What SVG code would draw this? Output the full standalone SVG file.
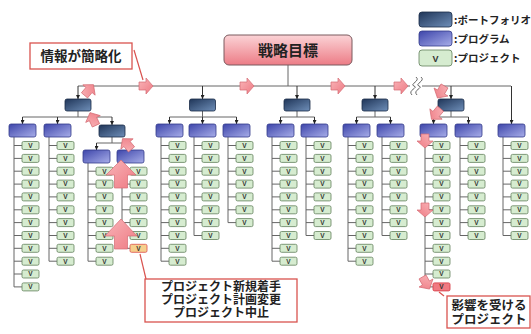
<svg xmlns="http://www.w3.org/2000/svg" xmlns:xlink="http://www.w3.org/1999/xlink" width="531" height="334" viewBox="0 0 531 334">
<defs>
<linearGradient id="gTop" x1="0" y1="0" x2="0" y2="1"><stop offset="0" stop-color="#fbd3d6"/><stop offset="1" stop-color="#ec7c86"/></linearGradient>
<linearGradient id="gPf" x1="0" y1="0" x2="1" y2="1"><stop offset="0" stop-color="#1f3558"/><stop offset="1" stop-color="#6f8fb9"/></linearGradient>
<linearGradient id="gPg" x1="0" y1="0" x2="1" y2="1"><stop offset="0" stop-color="#3d45aa"/><stop offset="1" stop-color="#a8aee9"/></linearGradient>
<linearGradient id="gAr" x1="0" y1="0" x2="1" y2="1"><stop offset="0" stop-color="#f9b5b9"/><stop offset="1" stop-color="#ee7a83"/></linearGradient>
<marker id="ah" viewBox="0 0 6 6" refX="6" refY="3" markerWidth="4" markerHeight="4" orient="auto"><path d="M0,0L6,3L0,6z" fill="#222"/></marker>
<path id="arr" d="M-7,-4H0V-8L7,0L0,8V4H-7Z"/>
</defs>
<style>
.ln{stroke:#666;stroke-width:1;fill:none}
.dr{stroke:#333;stroke-width:1;fill:none;marker-end:url(#ah)}
.pf{fill:url(#gPf);stroke:#1b2c48;stroke-width:0.8}
.pg{fill:url(#gPg);stroke:#343b8a;stroke-width:0.8}
.pj{fill:#d6ecd0;stroke:#62805c;stroke-width:0.8}
.v{font-family:"Liberation Sans",sans-serif;font-size:6.5px;font-weight:bold;fill:#333;text-anchor:middle}
.pa{fill:url(#gAr);stroke:#d46a72;stroke-width:0.7}
.co{fill:#fff;stroke:#d9534f;stroke-width:1.3}
.cl{stroke:#d9534f;stroke-width:1.2;fill:none}
.jp{font-family:"Noto Sans CJK JP",sans-serif;font-weight:bold;fill:#222}
</style>

<g id="connectors">
<path class="ln" d="M288,65V86M78,86H410M422,86H511"/>
<path class="dr" d="M78,86V99"/><path class="dr" d="M202.5,86V99"/><path class="dr" d="M297,86V99"/><path class="dr" d="M375,86V99"/><path class="dr" d="M451,86V99"/><path class="dr" d="M511.5,86V124"/>
<path class="ln" d="M78,111V117M22.5,117H112M202.5,111V117M169.5,117H236.5M297,111V117M280.5,117H314.5M375,111V117M356.5,117H390.5M451,111V117M433.5,117H468.5"/>
<path class="dr" d="M22.5,117V124"/><path class="dr" d="M57.5,117V124"/><path class="dr" d="M112,117V125"/>
<path class="dr" d="M169.5,117V124"/><path class="dr" d="M202.5,117V124"/><path class="dr" d="M236.5,117V124"/>
<path class="dr" d="M280.5,117V124"/><path class="dr" d="M314.5,117V124"/>
<path class="dr" d="M356.5,117V124"/><path class="dr" d="M390.5,117V124"/>
<path class="dr" d="M433.5,117V124"/><path class="dr" d="M468.5,117V124"/>
<path class="ln" d="M112,137V143M96.5,143H130.5"/>
<path class="dr" d="M96.5,143V150"/><path class="dr" d="M130.5,143V150"/>
<path class="ln" d="M14,137V286.9M49,137V261.2M88,163V261.2M122,163V248.3M161,137V261.2M194,137V235.5M228,137V222.6M272,137V261.2M306,137V235.5M348,137V261.2M382,137V235.5M425,137V286.9M460,137V235.5M503,137V235.5"/>
<path class="ln" d="M14,145.5H22M14,158.4H22M14,171.2H22M14,184.1H22M14,196.9H22M14,209.8H22M14,222.6H22M14,235.5H22M14,248.3H22M14,261.2H22M14,274H22M14,286.9H22"/>
<path class="ln" d="M49,145.5H57M49,158.4H57M49,171.2H57M49,184.1H57M49,196.9H57M49,209.8H57M49,222.6H57M49,235.5H57M49,248.3H57M49,261.2H57"/>
<path class="ln" d="M88,171.2H96M88,184.1H96M88,196.9H96M88,209.8H96M88,222.6H96M88,235.5H96M88,248.3H96M88,261.2H96"/>
<path class="ln" d="M122,171.2H130M122,184.1H130M122,196.9H130M122,209.8H130M122,222.6H130M122,235.5H130M122,248.3H130"/>
<path class="ln" d="M161,145.5H169M161,158.4H169M161,171.2H169M161,184.1H169M161,196.9H169M161,209.8H169M161,222.6H169M161,235.5H169M161,248.3H169M161,261.2H169"/>
<path class="ln" d="M194,145.5H202M194,158.4H202M194,171.2H202M194,184.1H202M194,196.9H202M194,209.8H202M194,222.6H202M194,235.5H202"/>
<path class="ln" d="M228,145.5H236M228,158.4H236M228,171.2H236M228,184.1H236M228,196.9H236M228,209.8H236M228,222.6H236"/>
<path class="ln" d="M272,145.5H280M272,158.4H280M272,171.2H280M272,184.1H280M272,196.9H280M272,209.8H280M272,222.6H280M272,235.5H280M272,248.3H280M272,261.2H280"/>
<path class="ln" d="M306,145.5H314M306,158.4H314M306,171.2H314M306,184.1H314M306,196.9H314M306,209.8H314M306,222.6H314M306,235.5H314"/>
<path class="ln" d="M348,145.5H356M348,158.4H356M348,171.2H356M348,184.1H356M348,196.9H356M348,209.8H356M348,222.6H356M348,235.5H356M348,248.3H356M348,261.2H356"/>
<path class="ln" d="M382,145.5H390M382,158.4H390M382,171.2H390M382,184.1H390M382,196.9H390M382,209.8H390M382,222.6H390M382,235.5H390"/>
<path class="ln" d="M425,145.5H433M425,158.4H433M425,171.2H433M425,184.1H433M425,196.9H433M425,209.8H433M425,222.6H433M425,235.5H433M425,248.3H433M425,261.2H433M425,274H433M425,286.9H433"/>
<path class="ln" d="M460,145.5H468M460,158.4H468M460,171.2H468M460,184.1H468M460,196.9H468M460,209.8H468M460,222.6H468M460,235.5H468"/>
<path class="ln" d="M503,145.5H511M503,158.4H511M503,171.2H511M503,184.1H511M503,196.9H511M503,209.8H511M503,222.6H511M503,235.5H511"/>
<path d="M412,95C407,90 419,88 414,86C409,84 421,81 416,77" stroke="#666" stroke-width="1" fill="none"/>
<path d="M417,95C412,90 424,88 419,86C414,84 426,81 421,77" stroke="#666" stroke-width="1" fill="none"/>
</g>

<g id="goal"><rect x="224" y="35" width="128" height="30" rx="5" fill="url(#gTop)" stroke="#7a5a5e" stroke-width="1"/><text class="jp" x="288" y="55.5" font-size="15" text-anchor="middle">戦略目標</text></g>

<g id="pf1"><rect class="pf" x="65" y="99" width="26" height="12" rx="2"/></g>
<g id="pf2"><rect class="pf" x="189.5" y="99" width="26" height="12" rx="2"/></g>
<g id="pf3"><rect class="pf" x="284" y="99" width="26" height="12" rx="2"/></g>
<g id="pf4"><rect class="pf" x="362" y="99" width="26" height="12" rx="2"/></g>
<g id="pf5"><rect class="pf" x="438" y="99" width="26" height="12" rx="2"/></g>
<g id="pf1s"><rect class="pf" x="99" y="125" width="26" height="12" rx="2"/></g>

<g id="pg1"><rect class="pg" x="9" y="124" width="27" height="13" rx="2"/></g>
<g id="pg2"><rect class="pg" x="44" y="124" width="27" height="13" rx="2"/></g>
<g id="pgs1"><rect class="pg" x="83" y="150" width="27" height="13" rx="2"/></g>
<g id="pgs2"><rect class="pg" x="117" y="150" width="27" height="13" rx="2"/></g>
<g id="pg3"><rect class="pg" x="156" y="124" width="27" height="13" rx="2"/></g>
<g id="pg4"><rect class="pg" x="189" y="124" width="27" height="13" rx="2"/></g>
<g id="pg5"><rect class="pg" x="223" y="124" width="27" height="13" rx="2"/></g>
<g id="pg6"><rect class="pg" x="267" y="124" width="27" height="13" rx="2"/></g>
<g id="pg7"><rect class="pg" x="301" y="124" width="27" height="13" rx="2"/></g>
<g id="pg8"><rect class="pg" x="343" y="124" width="27" height="13" rx="2"/></g>
<g id="pg9"><rect class="pg" x="377" y="124" width="27" height="13" rx="2"/></g>
<g id="pg10"><rect class="pg" x="420" y="124" width="27" height="13" rx="2"/></g>
<g id="pg11"><rect class="pg" x="455" y="124" width="27" height="13" rx="2"/></g>
<g id="pg12"><rect class="pg" x="498" y="124" width="27" height="13" rx="2"/></g>

<g id="projects">
<g id="c1">
<g id="c1-0"><rect class="pj" x="22" y="141.5" width="17" height="8" rx="1.5"/><text class="v" x="30.5" y="147.8">V</text></g>
<g id="c1-1"><rect class="pj" x="22" y="154.4" width="17" height="8" rx="1.5"/><text class="v" x="30.5" y="160.7">V</text></g>
<g id="c1-2"><rect class="pj" x="22" y="167.2" width="17" height="8" rx="1.5"/><text class="v" x="30.5" y="173.5">V</text></g>
<g id="c1-3"><rect class="pj" x="22" y="180.1" width="17" height="8" rx="1.5"/><text class="v" x="30.5" y="186.4">V</text></g>
<g id="c1-4"><rect class="pj" x="22" y="192.9" width="17" height="8" rx="1.5"/><text class="v" x="30.5" y="199.2">V</text></g>
<g id="c1-5"><rect class="pj" x="22" y="205.8" width="17" height="8" rx="1.5"/><text class="v" x="30.5" y="212.1">V</text></g>
<g id="c1-6"><rect class="pj" x="22" y="218.6" width="17" height="8" rx="1.5"/><text class="v" x="30.5" y="224.9">V</text></g>
<g id="c1-7"><rect class="pj" x="22" y="231.5" width="17" height="8" rx="1.5"/><text class="v" x="30.5" y="237.8">V</text></g>
<g id="c1-8"><rect class="pj" x="22" y="244.3" width="17" height="8" rx="1.5"/><text class="v" x="30.5" y="250.6">V</text></g>
<g id="c1-9"><rect class="pj" x="22" y="257.2" width="17" height="8" rx="1.5"/><text class="v" x="30.5" y="263.5">V</text></g>
<g id="c1-10"><rect class="pj" x="22" y="270" width="17" height="8" rx="1.5"/><text class="v" x="30.5" y="276.3">V</text></g>
<g id="c1-11"><rect class="pj" x="22" y="282.9" width="17" height="8" rx="1.5"/><text class="v" x="30.5" y="289.2">V</text></g>
</g>
<g id="c2">
<g id="c2-0"><rect class="pj" x="57" y="141.5" width="17" height="8" rx="1.5"/><text class="v" x="65.5" y="147.8">V</text></g>
<g id="c2-1"><rect class="pj" x="57" y="154.4" width="17" height="8" rx="1.5"/><text class="v" x="65.5" y="160.7">V</text></g>
<g id="c2-2"><rect class="pj" x="57" y="167.2" width="17" height="8" rx="1.5"/><text class="v" x="65.5" y="173.5">V</text></g>
<g id="c2-3"><rect class="pj" x="57" y="180.1" width="17" height="8" rx="1.5"/><text class="v" x="65.5" y="186.4">V</text></g>
<g id="c2-4"><rect class="pj" x="57" y="192.9" width="17" height="8" rx="1.5"/><text class="v" x="65.5" y="199.2">V</text></g>
<g id="c2-5"><rect class="pj" x="57" y="205.8" width="17" height="8" rx="1.5"/><text class="v" x="65.5" y="212.1">V</text></g>
<g id="c2-6"><rect class="pj" x="57" y="218.6" width="17" height="8" rx="1.5"/><text class="v" x="65.5" y="224.9">V</text></g>
<g id="c2-7"><rect class="pj" x="57" y="231.5" width="17" height="8" rx="1.5"/><text class="v" x="65.5" y="237.8">V</text></g>
<g id="c2-8"><rect class="pj" x="57" y="244.3" width="17" height="8" rx="1.5"/><text class="v" x="65.5" y="250.6">V</text></g>
<g id="c2-9"><rect class="pj" x="57" y="257.2" width="17" height="8" rx="1.5"/><text class="v" x="65.5" y="263.5">V</text></g>
</g>
<g id="s1">
<g id="s1-2"><rect class="pj" x="96" y="167.2" width="17" height="8" rx="1.5"/><text class="v" x="104.5" y="173.5">V</text></g>
<g id="s1-3"><rect class="pj" x="96" y="180.1" width="17" height="8" rx="1.5"/><text class="v" x="104.5" y="186.4">V</text></g>
<g id="s1-4"><rect class="pj" x="96" y="192.9" width="17" height="8" rx="1.5"/><text class="v" x="104.5" y="199.2">V</text></g>
<g id="s1-5"><rect class="pj" x="96" y="205.8" width="17" height="8" rx="1.5"/><text class="v" x="104.5" y="212.1">V</text></g>
<g id="s1-6"><rect class="pj" x="96" y="218.6" width="17" height="8" rx="1.5"/><text class="v" x="104.5" y="224.9">V</text></g>
<g id="s1-7"><rect class="pj" x="96" y="231.5" width="17" height="8" rx="1.5"/><text class="v" x="104.5" y="237.8">V</text></g>
<g id="s1-8"><rect class="pj" x="96" y="244.3" width="17" height="8" rx="1.5"/><text class="v" x="104.5" y="250.6">V</text></g>
<g id="s1-9"><rect class="pj" x="96" y="257.2" width="17" height="8" rx="1.5"/><text class="v" x="104.5" y="263.5">V</text></g>
</g>
<g id="s2">
<g id="s2-2"><rect class="pj" x="130" y="167.2" width="17" height="8" rx="1.5"/><text class="v" x="138.5" y="173.5">V</text></g>
<g id="s2-3"><rect class="pj" x="130" y="180.1" width="17" height="8" rx="1.5"/><text class="v" x="138.5" y="186.4">V</text></g>
<g id="s2-4"><rect class="pj" x="130" y="192.9" width="17" height="8" rx="1.5"/><text class="v" x="138.5" y="199.2">V</text></g>
<g id="s2-5"><rect class="pj" x="130" y="205.8" width="17" height="8" rx="1.5"/><text class="v" x="138.5" y="212.1">V</text></g>
<g id="s2-6"><rect class="pj" x="130" y="218.6" width="17" height="8" rx="1.5"/><text class="v" x="138.5" y="224.9">V</text></g>
<g id="s2-7"><rect class="pj" x="130" y="231.5" width="17" height="8" rx="1.5"/><text class="v" x="138.5" y="237.8">V</text></g>
<g id="s2-8"><rect x="130" y="244.3" width="17" height="8" rx="1.5" fill="#f6cf8c" stroke="#e0605a" stroke-width="0.9"/><text class="v" x="138.5" y="250.6">V</text></g>
</g>
<g id="c3">
<g id="c3-0"><rect class="pj" x="169" y="141.5" width="17" height="8" rx="1.5"/><text class="v" x="177.5" y="147.8">V</text></g>
<g id="c3-1"><rect class="pj" x="169" y="154.4" width="17" height="8" rx="1.5"/><text class="v" x="177.5" y="160.7">V</text></g>
<g id="c3-2"><rect class="pj" x="169" y="167.2" width="17" height="8" rx="1.5"/><text class="v" x="177.5" y="173.5">V</text></g>
<g id="c3-3"><rect class="pj" x="169" y="180.1" width="17" height="8" rx="1.5"/><text class="v" x="177.5" y="186.4">V</text></g>
<g id="c3-4"><rect class="pj" x="169" y="192.9" width="17" height="8" rx="1.5"/><text class="v" x="177.5" y="199.2">V</text></g>
<g id="c3-5"><rect class="pj" x="169" y="205.8" width="17" height="8" rx="1.5"/><text class="v" x="177.5" y="212.1">V</text></g>
<g id="c3-6"><rect class="pj" x="169" y="218.6" width="17" height="8" rx="1.5"/><text class="v" x="177.5" y="224.9">V</text></g>
<g id="c3-7"><rect class="pj" x="169" y="231.5" width="17" height="8" rx="1.5"/><text class="v" x="177.5" y="237.8">V</text></g>
<g id="c3-8"><rect class="pj" x="169" y="244.3" width="17" height="8" rx="1.5"/><text class="v" x="177.5" y="250.6">V</text></g>
<g id="c3-9"><rect class="pj" x="169" y="257.2" width="17" height="8" rx="1.5"/><text class="v" x="177.5" y="263.5">V</text></g>
</g>
<g id="c4">
<g id="c4-0"><rect class="pj" x="202" y="141.5" width="17" height="8" rx="1.5"/><text class="v" x="210.5" y="147.8">V</text></g>
<g id="c4-1"><rect class="pj" x="202" y="154.4" width="17" height="8" rx="1.5"/><text class="v" x="210.5" y="160.7">V</text></g>
<g id="c4-2"><rect class="pj" x="202" y="167.2" width="17" height="8" rx="1.5"/><text class="v" x="210.5" y="173.5">V</text></g>
<g id="c4-3"><rect class="pj" x="202" y="180.1" width="17" height="8" rx="1.5"/><text class="v" x="210.5" y="186.4">V</text></g>
<g id="c4-4"><rect class="pj" x="202" y="192.9" width="17" height="8" rx="1.5"/><text class="v" x="210.5" y="199.2">V</text></g>
<g id="c4-5"><rect class="pj" x="202" y="205.8" width="17" height="8" rx="1.5"/><text class="v" x="210.5" y="212.1">V</text></g>
<g id="c4-6"><rect class="pj" x="202" y="218.6" width="17" height="8" rx="1.5"/><text class="v" x="210.5" y="224.9">V</text></g>
<g id="c4-7"><rect class="pj" x="202" y="231.5" width="17" height="8" rx="1.5"/><text class="v" x="210.5" y="237.8">V</text></g>
</g>
<g id="c5">
<g id="c5-0"><rect class="pj" x="236" y="141.5" width="17" height="8" rx="1.5"/><text class="v" x="244.5" y="147.8">V</text></g>
<g id="c5-1"><rect class="pj" x="236" y="154.4" width="17" height="8" rx="1.5"/><text class="v" x="244.5" y="160.7">V</text></g>
<g id="c5-2"><rect class="pj" x="236" y="167.2" width="17" height="8" rx="1.5"/><text class="v" x="244.5" y="173.5">V</text></g>
<g id="c5-3"><rect class="pj" x="236" y="180.1" width="17" height="8" rx="1.5"/><text class="v" x="244.5" y="186.4">V</text></g>
<g id="c5-4"><rect class="pj" x="236" y="192.9" width="17" height="8" rx="1.5"/><text class="v" x="244.5" y="199.2">V</text></g>
<g id="c5-5"><rect class="pj" x="236" y="205.8" width="17" height="8" rx="1.5"/><text class="v" x="244.5" y="212.1">V</text></g>
<g id="c5-6"><rect class="pj" x="236" y="218.6" width="17" height="8" rx="1.5"/><text class="v" x="244.5" y="224.9">V</text></g>
</g>
<g id="c6">
<g id="c6-0"><rect class="pj" x="280" y="141.5" width="17" height="8" rx="1.5"/><text class="v" x="288.5" y="147.8">V</text></g>
<g id="c6-1"><rect class="pj" x="280" y="154.4" width="17" height="8" rx="1.5"/><text class="v" x="288.5" y="160.7">V</text></g>
<g id="c6-2"><rect class="pj" x="280" y="167.2" width="17" height="8" rx="1.5"/><text class="v" x="288.5" y="173.5">V</text></g>
<g id="c6-3"><rect class="pj" x="280" y="180.1" width="17" height="8" rx="1.5"/><text class="v" x="288.5" y="186.4">V</text></g>
<g id="c6-4"><rect class="pj" x="280" y="192.9" width="17" height="8" rx="1.5"/><text class="v" x="288.5" y="199.2">V</text></g>
<g id="c6-5"><rect class="pj" x="280" y="205.8" width="17" height="8" rx="1.5"/><text class="v" x="288.5" y="212.1">V</text></g>
<g id="c6-6"><rect class="pj" x="280" y="218.6" width="17" height="8" rx="1.5"/><text class="v" x="288.5" y="224.9">V</text></g>
<g id="c6-7"><rect class="pj" x="280" y="231.5" width="17" height="8" rx="1.5"/><text class="v" x="288.5" y="237.8">V</text></g>
<g id="c6-8"><rect class="pj" x="280" y="244.3" width="17" height="8" rx="1.5"/><text class="v" x="288.5" y="250.6">V</text></g>
<g id="c6-9"><rect class="pj" x="280" y="257.2" width="17" height="8" rx="1.5"/><text class="v" x="288.5" y="263.5">V</text></g>
</g>
<g id="c7">
<g id="c7-0"><rect class="pj" x="314" y="141.5" width="17" height="8" rx="1.5"/><text class="v" x="322.5" y="147.8">V</text></g>
<g id="c7-1"><rect class="pj" x="314" y="154.4" width="17" height="8" rx="1.5"/><text class="v" x="322.5" y="160.7">V</text></g>
<g id="c7-2"><rect class="pj" x="314" y="167.2" width="17" height="8" rx="1.5"/><text class="v" x="322.5" y="173.5">V</text></g>
<g id="c7-3"><rect class="pj" x="314" y="180.1" width="17" height="8" rx="1.5"/><text class="v" x="322.5" y="186.4">V</text></g>
<g id="c7-4"><rect class="pj" x="314" y="192.9" width="17" height="8" rx="1.5"/><text class="v" x="322.5" y="199.2">V</text></g>
<g id="c7-5"><rect class="pj" x="314" y="205.8" width="17" height="8" rx="1.5"/><text class="v" x="322.5" y="212.1">V</text></g>
<g id="c7-6"><rect class="pj" x="314" y="218.6" width="17" height="8" rx="1.5"/><text class="v" x="322.5" y="224.9">V</text></g>
<g id="c7-7"><rect class="pj" x="314" y="231.5" width="17" height="8" rx="1.5"/><text class="v" x="322.5" y="237.8">V</text></g>
</g>
<g id="c8">
<g id="c8-0"><rect class="pj" x="356" y="141.5" width="17" height="8" rx="1.5"/><text class="v" x="364.5" y="147.8">V</text></g>
<g id="c8-1"><rect class="pj" x="356" y="154.4" width="17" height="8" rx="1.5"/><text class="v" x="364.5" y="160.7">V</text></g>
<g id="c8-2"><rect class="pj" x="356" y="167.2" width="17" height="8" rx="1.5"/><text class="v" x="364.5" y="173.5">V</text></g>
<g id="c8-3"><rect class="pj" x="356" y="180.1" width="17" height="8" rx="1.5"/><text class="v" x="364.5" y="186.4">V</text></g>
<g id="c8-4"><rect class="pj" x="356" y="192.9" width="17" height="8" rx="1.5"/><text class="v" x="364.5" y="199.2">V</text></g>
<g id="c8-5"><rect class="pj" x="356" y="205.8" width="17" height="8" rx="1.5"/><text class="v" x="364.5" y="212.1">V</text></g>
<g id="c8-6"><rect class="pj" x="356" y="218.6" width="17" height="8" rx="1.5"/><text class="v" x="364.5" y="224.9">V</text></g>
<g id="c8-7"><rect class="pj" x="356" y="231.5" width="17" height="8" rx="1.5"/><text class="v" x="364.5" y="237.8">V</text></g>
<g id="c8-8"><rect class="pj" x="356" y="244.3" width="17" height="8" rx="1.5"/><text class="v" x="364.5" y="250.6">V</text></g>
<g id="c8-9"><rect class="pj" x="356" y="257.2" width="17" height="8" rx="1.5"/><text class="v" x="364.5" y="263.5">V</text></g>
</g>
<g id="c9">
<g id="c9-0"><rect class="pj" x="390" y="141.5" width="17" height="8" rx="1.5"/><text class="v" x="398.5" y="147.8">V</text></g>
<g id="c9-1"><rect class="pj" x="390" y="154.4" width="17" height="8" rx="1.5"/><text class="v" x="398.5" y="160.7">V</text></g>
<g id="c9-2"><rect class="pj" x="390" y="167.2" width="17" height="8" rx="1.5"/><text class="v" x="398.5" y="173.5">V</text></g>
<g id="c9-3"><rect class="pj" x="390" y="180.1" width="17" height="8" rx="1.5"/><text class="v" x="398.5" y="186.4">V</text></g>
<g id="c9-4"><rect class="pj" x="390" y="192.9" width="17" height="8" rx="1.5"/><text class="v" x="398.5" y="199.2">V</text></g>
<g id="c9-5"><rect class="pj" x="390" y="205.8" width="17" height="8" rx="1.5"/><text class="v" x="398.5" y="212.1">V</text></g>
<g id="c9-6"><rect class="pj" x="390" y="218.6" width="17" height="8" rx="1.5"/><text class="v" x="398.5" y="224.9">V</text></g>
<g id="c9-7"><rect class="pj" x="390" y="231.5" width="17" height="8" rx="1.5"/><text class="v" x="398.5" y="237.8">V</text></g>
</g>
<g id="c10">
<g id="c10-0"><rect class="pj" x="433" y="141.5" width="17" height="8" rx="1.5"/><text class="v" x="441.5" y="147.8">V</text></g>
<g id="c10-1"><rect class="pj" x="433" y="154.4" width="17" height="8" rx="1.5"/><text class="v" x="441.5" y="160.7">V</text></g>
<g id="c10-2"><rect class="pj" x="433" y="167.2" width="17" height="8" rx="1.5"/><text class="v" x="441.5" y="173.5">V</text></g>
<g id="c10-3"><rect class="pj" x="433" y="180.1" width="17" height="8" rx="1.5"/><text class="v" x="441.5" y="186.4">V</text></g>
<g id="c10-4"><rect class="pj" x="433" y="192.9" width="17" height="8" rx="1.5"/><text class="v" x="441.5" y="199.2">V</text></g>
<g id="c10-5"><rect class="pj" x="433" y="205.8" width="17" height="8" rx="1.5"/><text class="v" x="441.5" y="212.1">V</text></g>
<g id="c10-6"><rect class="pj" x="433" y="218.6" width="17" height="8" rx="1.5"/><text class="v" x="441.5" y="224.9">V</text></g>
<g id="c10-7"><rect class="pj" x="433" y="231.5" width="17" height="8" rx="1.5"/><text class="v" x="441.5" y="237.8">V</text></g>
<g id="c10-8"><rect class="pj" x="433" y="244.3" width="17" height="8" rx="1.5"/><text class="v" x="441.5" y="250.6">V</text></g>
<g id="c10-9"><rect class="pj" x="433" y="257.2" width="17" height="8" rx="1.5"/><text class="v" x="441.5" y="263.5">V</text></g>
<g id="c10-10"><rect class="pj" x="433" y="270" width="17" height="8" rx="1.5"/><text class="v" x="441.5" y="276.3">V</text></g>
<g id="c10-11"><rect x="433" y="282.9" width="17" height="8" rx="1.5" fill="#f07a82" stroke="#d9434c" stroke-width="0.9"/><text class="v" x="441.5" y="289.2">V</text></g>
</g>
<g id="c11">
<g id="c11-0"><rect class="pj" x="468" y="141.5" width="17" height="8" rx="1.5"/><text class="v" x="476.5" y="147.8">V</text></g>
<g id="c11-1"><rect class="pj" x="468" y="154.4" width="17" height="8" rx="1.5"/><text class="v" x="476.5" y="160.7">V</text></g>
<g id="c11-2"><rect class="pj" x="468" y="167.2" width="17" height="8" rx="1.5"/><text class="v" x="476.5" y="173.5">V</text></g>
<g id="c11-3"><rect class="pj" x="468" y="180.1" width="17" height="8" rx="1.5"/><text class="v" x="476.5" y="186.4">V</text></g>
<g id="c11-4"><rect class="pj" x="468" y="192.9" width="17" height="8" rx="1.5"/><text class="v" x="476.5" y="199.2">V</text></g>
<g id="c11-5"><rect class="pj" x="468" y="205.8" width="17" height="8" rx="1.5"/><text class="v" x="476.5" y="212.1">V</text></g>
<g id="c11-6"><rect class="pj" x="468" y="218.6" width="17" height="8" rx="1.5"/><text class="v" x="476.5" y="224.9">V</text></g>
<g id="c11-7"><rect class="pj" x="468" y="231.5" width="17" height="8" rx="1.5"/><text class="v" x="476.5" y="237.8">V</text></g>
</g>
<g id="c12">
<g id="c12-0"><rect class="pj" x="511" y="141.5" width="17" height="8" rx="1.5"/><text class="v" x="519.5" y="147.8">V</text></g>
<g id="c12-1"><rect class="pj" x="511" y="154.4" width="17" height="8" rx="1.5"/><text class="v" x="519.5" y="160.7">V</text></g>
<g id="c12-2"><rect class="pj" x="511" y="167.2" width="17" height="8" rx="1.5"/><text class="v" x="519.5" y="173.5">V</text></g>
<g id="c12-3"><rect class="pj" x="511" y="180.1" width="17" height="8" rx="1.5"/><text class="v" x="519.5" y="186.4">V</text></g>
<g id="c12-4"><rect class="pj" x="511" y="192.9" width="17" height="8" rx="1.5"/><text class="v" x="519.5" y="199.2">V</text></g>
<g id="c12-5"><rect class="pj" x="511" y="205.8" width="17" height="8" rx="1.5"/><text class="v" x="519.5" y="212.1">V</text></g>
<g id="c12-6"><rect class="pj" x="511" y="218.6" width="17" height="8" rx="1.5"/><text class="v" x="519.5" y="224.9">V</text></g>
<g id="c12-7"><rect class="pj" x="511" y="231.5" width="17" height="8" rx="1.5"/><text class="v" x="519.5" y="237.8">V</text></g>
</g>
</g>

<g id="flow-arrows">
<use href="#arr" class="pa" transform="translate(89,90) rotate(-50)"/>
<use href="#arr" class="pa" transform="translate(93,119) rotate(-115)"/>
<use href="#arr" class="pa" transform="translate(127,144) rotate(-130)"/>
<path class="pa" d="M121,160L136,175H127.5V188H114.5V175H106Z"/>
<path class="pa" d="M121,219L137,236H127.5V249H114.5V236H105Z"/>
<use href="#arr" class="pa" transform="translate(146,86)"/>
<use href="#arr" class="pa" transform="translate(247,86)"/>
<use href="#arr" class="pa" transform="translate(338,86)"/>
<use href="#arr" class="pa" transform="translate(401,86)"/>
<use href="#arr" class="pa" transform="translate(441,92) rotate(120)"/>
<use href="#arr" class="pa" transform="translate(436,114) rotate(130)"/>
<use href="#arr" class="pa" transform="translate(425,141) rotate(90)"/>
<use href="#arr" class="pa" transform="translate(425,210) rotate(90)"/>
<use href="#arr" class="pa" transform="translate(426,283) rotate(60)"/>
</g>

<g id="callout-info">
<rect class="co" x="30" y="43" width="102" height="26"/>
<text class="jp" x="81" y="61" font-size="13.5" text-anchor="middle">情報が簡略化</text>
<path class="cl" d="M134,50L143,80"/>
</g>
<g id="callout-change">
<rect class="co" x="145" y="279" width="152" height="43"/>
<text class="jp" font-size="12" text-anchor="middle"><tspan x="221" y="291">プロジェクト新規着手</tspan><tspan x="221" y="304">プロジェクト計画変更</tspan><tspan x="221" y="317">プロジェクト中止</tspan></text>
<path class="cl" d="M140,254L146,279"/>
</g>
<g id="callout-affected">
<rect class="co" x="447" y="296" width="83" height="32"/>
<text class="jp" font-size="12.5" text-anchor="middle"><tspan x="489" y="310">影響を受ける</tspan><tspan x="489" y="323.5">プロジェクト</tspan></text>
<path class="cl" d="M439,292L444,296"/>
</g>

<g id="legend">
<g id="lg-pf"><rect class="pf" x="419" y="12" width="33" height="15" rx="3"/><text class="jp" x="454" y="24" font-size="10.5">:ポートフォリオ</text></g>
<g id="lg-pg"><rect class="pg" x="419" y="31" width="33" height="15" rx="3"/><text class="jp" x="454" y="43" font-size="10.5">:プログラム</text></g>
<g id="lg-pj"><rect class="pj" x="419" y="50" width="33" height="16" rx="3"/><text class="v" x="435.5" y="61.5" style="font-size:9px">V</text><text class="jp" x="454" y="62" font-size="10.5">:プロジェクト</text></g>
</g>
</svg>
